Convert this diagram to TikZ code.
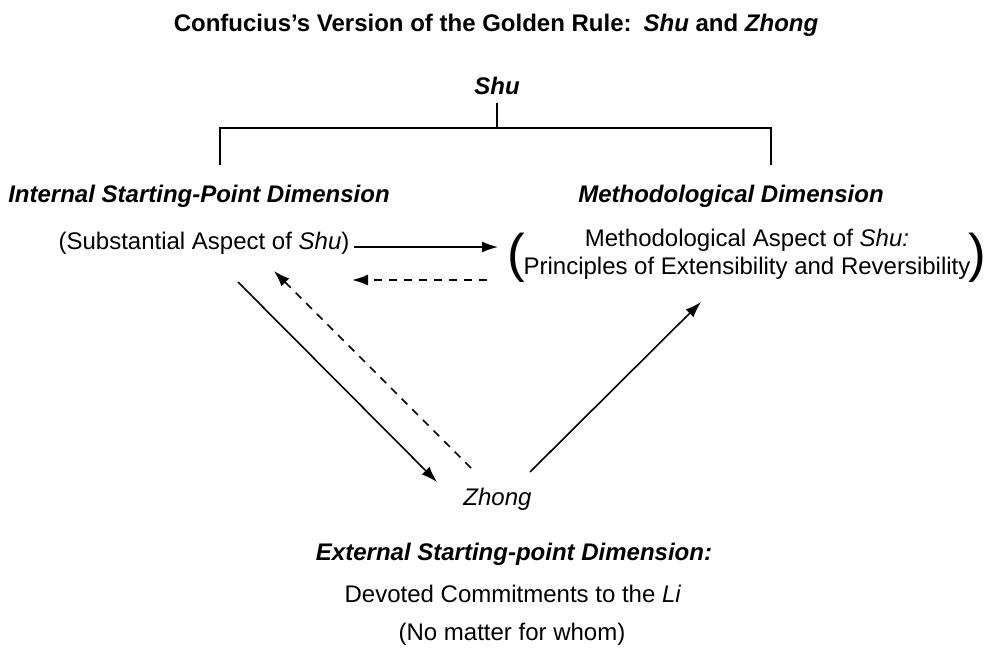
\documentclass[tikz,border=0pt]{standalone}
\usepackage{fontspec}
\setmainfont{Liberation Sans}
\usetikzlibrary{arrows.meta}
\begin{document}
\begin{tikzpicture}[x=1pt,y=-1pt,
  lbl/.style={inner sep=0pt,anchor=base,font=\fontsize{24}{28}\selectfont},
  hdr/.style={inner sep=0pt,anchor=base,font=\fontsize{24}{28}\selectfont\bfseries\itshape},
  paren/.style={inner sep=0pt,anchor=center,font=\fontsize{53}{53}\selectfont},
  conn/.style={line width=1.8pt},
  arr/.style={line width=1.6pt,-{Latex[length=16pt,width=11pt]}},
  darr/.style={line width=1.6pt,dash pattern=on 8pt off 7pt,-{Latex[length=16pt,width=11pt]}}]
\useasboundingbox (0,0) rectangle (986,652);
\node[inner sep=0pt,anchor=base,font=\fontsize{24}{28}\selectfont\bfseries] (title) at (496,32) {Confucius's Version of the Golden Rule:\enspace\textit{Shu} and \textit{Zhong}};
\node[hdr] (shu) at (497,95) {Shu};
\node[hdr] (internal) at (199,203) {Internal Starting-Point Dimension};
\node[hdr] (method) at (731,203) {Methodological Dimension};
\node[lbl] (subst) at (204,250) {(Substantial Aspect of \textit{Shu})};
\node[lbl] (meth1) at (747,247) {Methodological Aspect of \textit{Shu:}};
\node[lbl] (meth2) at (747,275) {Principles of Extensibility and Reversibility};
\node[paren] (lp) at (516.5,258) {(};
\node[paren] (rp) at (977.5,258) {)};
\node[lbl,font=\fontsize{24}{28}\selectfont\itshape] (zhong) at (497.5,505) {Zhong};
\node[hdr] (external) at (514,560) {External Starting-point Dimension:};
\node[lbl] (devoted) at (513,602) {Devoted Commitments to the \textit{Li}};
\node[lbl] (nomatter) at (512,640) {(No matter for whom)};
% bracket
\coordinate (btop) at (497,103);
\coordinate (bc) at (497,128);
\coordinate (bl) at (220,128);
\coordinate (br) at (771,128);
\coordinate (bld) at (220,165);
\coordinate (brd) at (771,165);
\draw[conn] (btop) -- (bc);
\draw[conn] (bld) -- (bl) -- (br) -- (brd);
% arrows
\coordinate (a1s) at (354,247);
\coordinate (a1e) at (498,247);
\draw[arr] (a1s) -- (a1e);
\coordinate (a2s) at (487,280);
\coordinate (a2e) at (352,280);
\draw[darr] (a2s) -- (a2e);
\coordinate (a3s) at (238,282);
\coordinate (a3e) at (437,482);
\draw[arr] (a3s) -- (a3e);
\coordinate (a4s) at (471,468);
\coordinate (a4e) at (274,271);
\draw[darr] (a4s) -- (a4e);
\coordinate (a5s) at (530,472);
\coordinate (a5e) at (701,302);
\draw[arr] (a5s) -- (a5e);
\end{tikzpicture}
\end{document}
